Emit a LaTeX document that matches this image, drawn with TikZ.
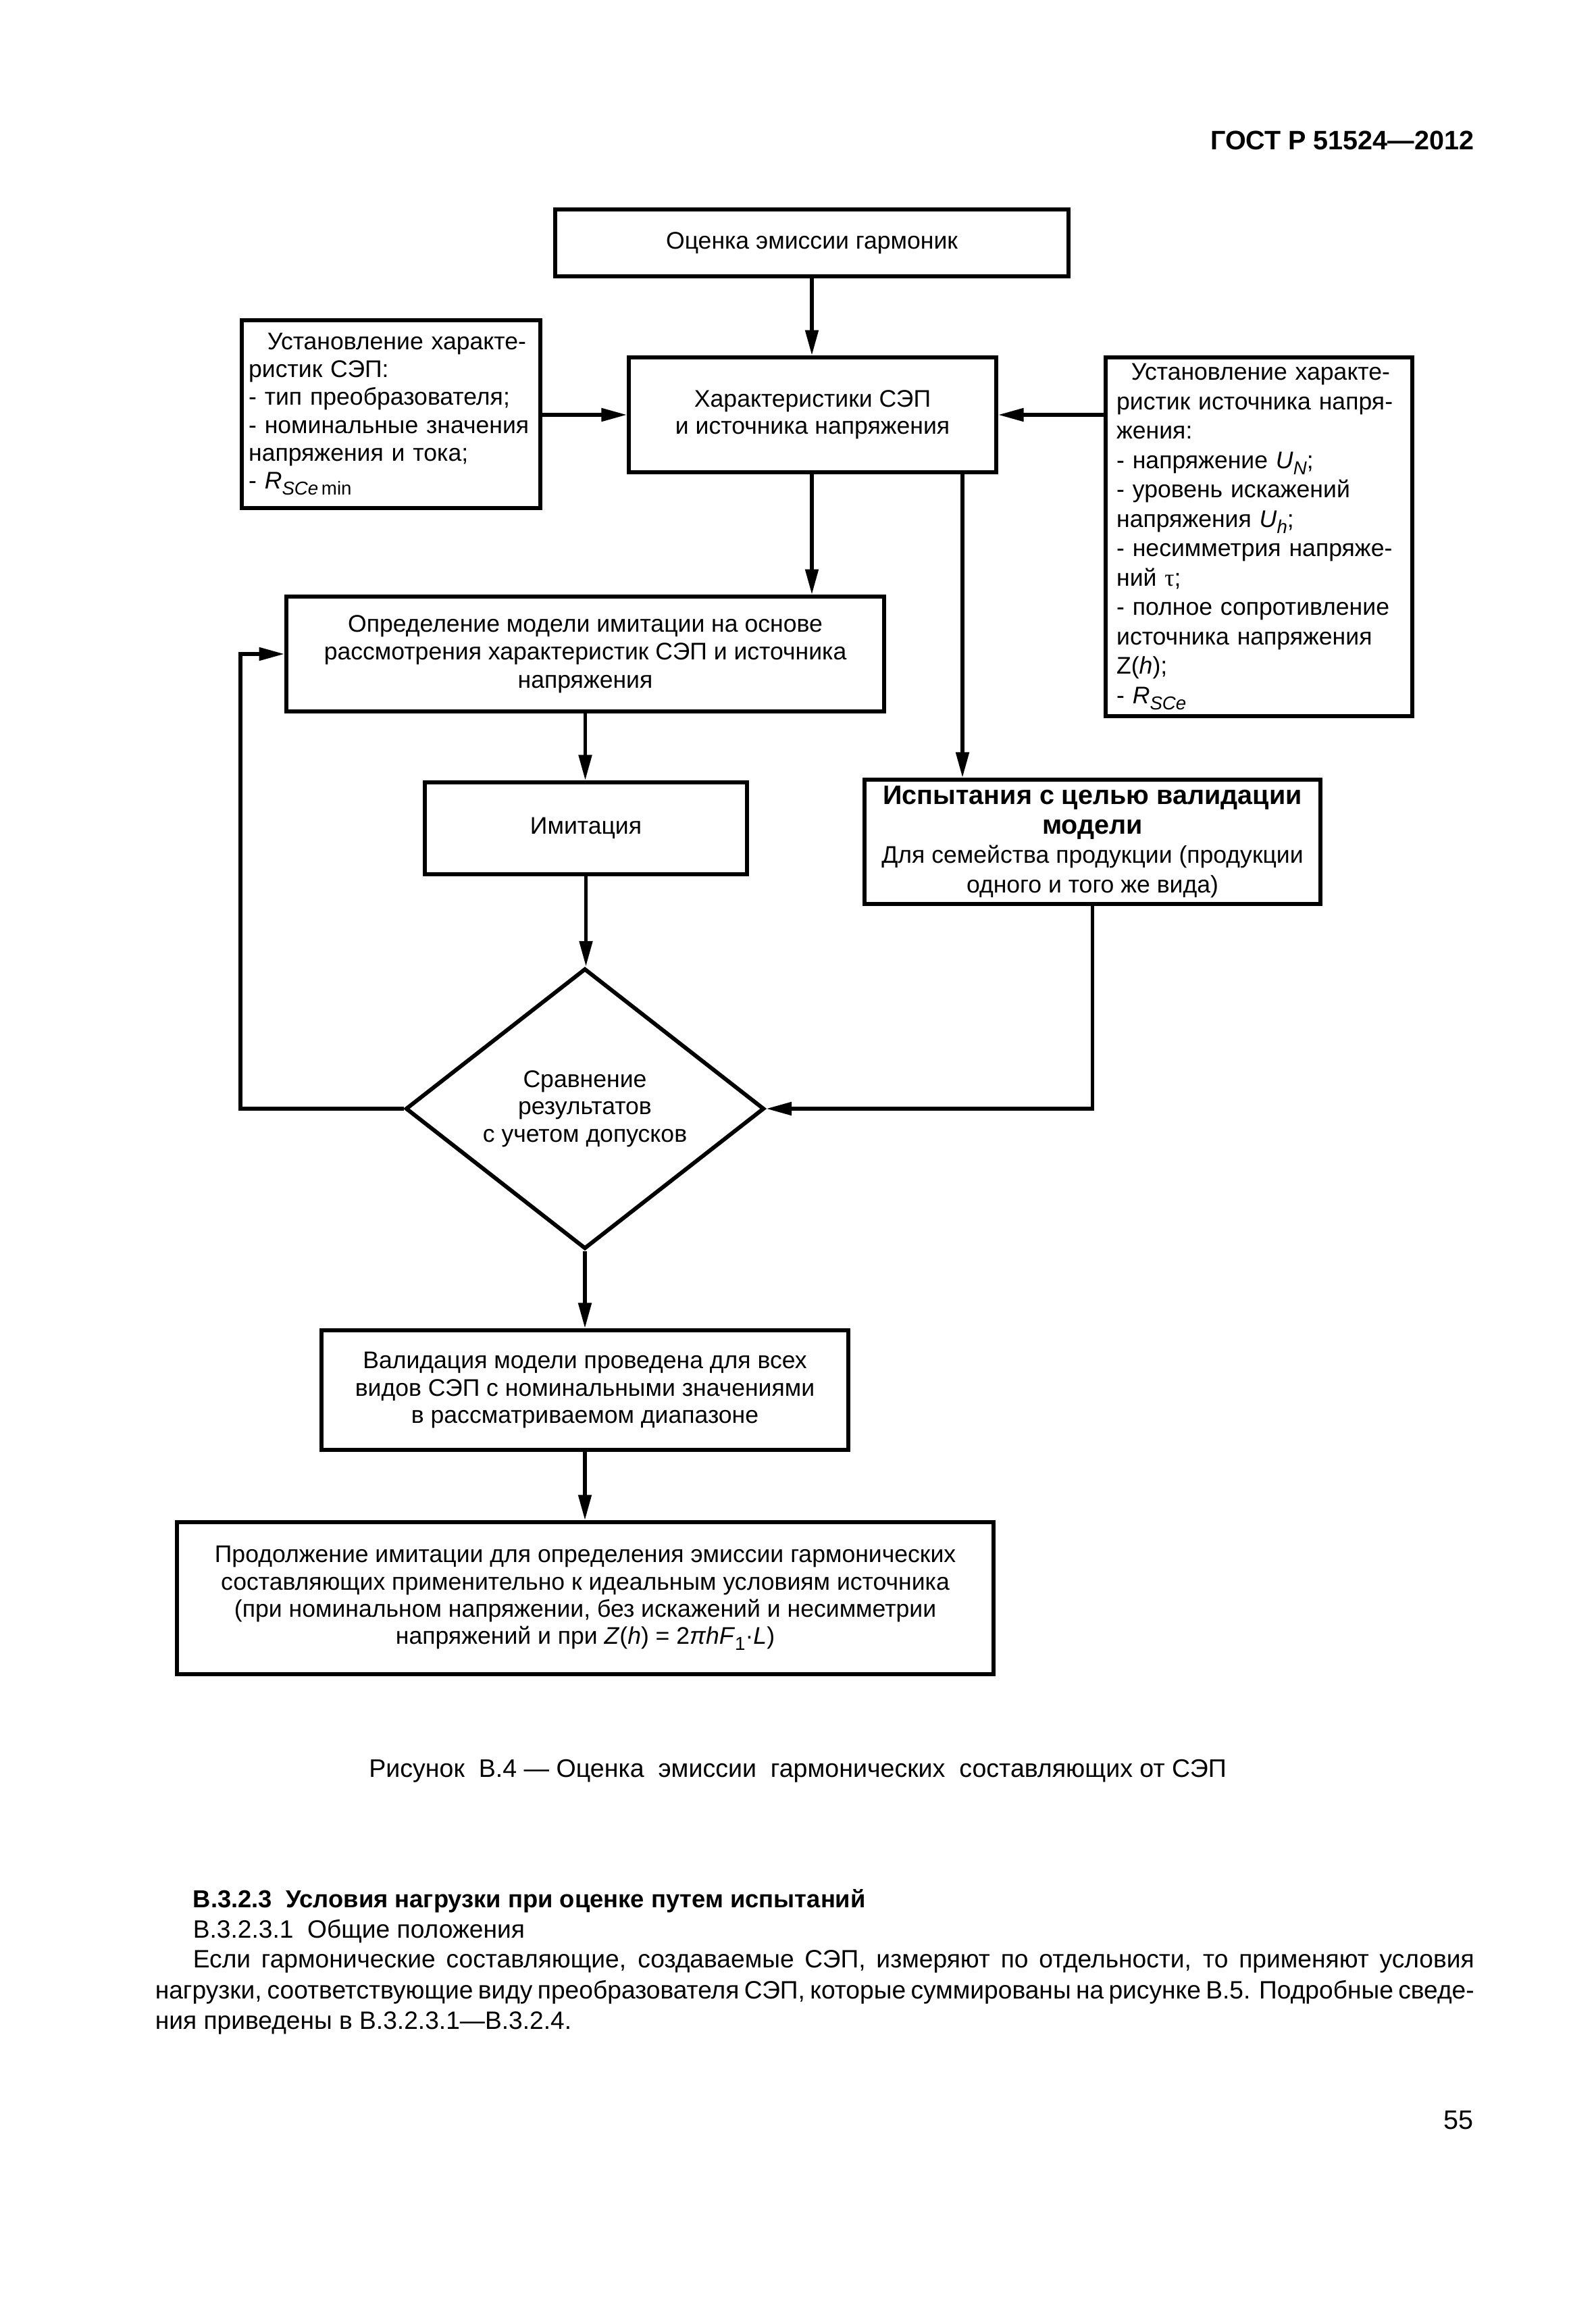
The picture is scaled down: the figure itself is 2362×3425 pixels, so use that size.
\documentclass[tikz,border=0pt]{standalone}
\usepackage{fontspec}
\setmainfont{Liberation Sans}
\newfontfamily\serifgr{Liberation Serif}
\usetikzlibrary{arrows.meta,shapes.geometric}
\newcommand{\lowsub}[1]{\raisebox{-2.3pt}{\fontsize{7pt}{7pt}\selectfont #1}}
\begin{document}
\begin{tikzpicture}[x=0.088908mm,y=-0.088908mm,
  box/.style={draw, line width=1.5pt, inner sep=0pt, align=center, font=\fontsize{9pt}{10.2pt}\selectfont},
  lbox/.style={draw, line width=1.5pt, inner sep=0pt, align=left, text width=37.5mm, font=\fontsize{9pt}{10.4pt}\selectfont},
  arr/.style={line width=1.3pt, -{Triangle[length=9.5pt,width=4.8pt]}},
  ptext/.style={anchor=base west, inner sep=0pt, font=\fontsize{9.4pt}{11.5pt}\selectfont}]
\useasboundingbox (0,0) rectangle (2362,3425);
\fill[white] (0,0) rectangle (2362,3425);

\node[anchor=base east, inner sep=0pt, font=\fontsize{10pt}{12pt}\selectfont\bfseries] (hdr) at (2183,222) {ГОСТ Р 51524—2012};

\node[box, minimum width=67.57mm, minimum height=8.80mm] (b1) at (1202,359.5) {Оценка эмиссии гармоник};
\node[lbox, minimum width=39.30mm, minimum height=24.72mm] (bL) at (579,613) {\hspace*{7pt}Установление характе-\\ристик СЭП:\\- тип преобразователя;\\- номинальные значения\\напряжения и тока;\\- \textit{R}\lowsub{\textit{SCe}\,min}};
\node[box, minimum width=48.37mm, minimum height=15.11mm] (b2) at (1203,614) {Характеристики СЭП\\и источника напряжения};
\node[lbox, minimum width=40.36mm, minimum height=47.21mm, font=\fontsize{9pt}{11pt}\selectfont] (bR) at (1864,794.5) {\hspace*{5.5pt}Установление характе-\\ристик источника напря-\\жения:\\- напряжение \textit{U}\lowsub{\textit{N}};\\- уровень искажений\\напряжения \textit{U}\lowsub{\textit{h}};\\- несимметрия напряже-\\ний {\serifgr τ};\\- полное сопротивление\\источника напряжения\\Z(\textit{h});\\- \textit{R}\lowsub{\textit{SCe}}};
\node[box, minimum width=78.68mm, minimum height=15.11mm, font=\fontsize{9pt}{10.5pt}\selectfont] (b3) at (866.5,968) {Определение модели имитации на основе\\рассмотрения характеристик СЭП и источника\\напряжения};
\node[box, minimum width=42.41mm, minimum height=12.09mm] (bI) at (867.5,1226) {Имитация};
\node[box, minimum width=60.01mm, minimum height=16.36mm, font=\fontsize{9pt}{11pt}\selectfont] (b4) at (1617.5,1246) {{\fontsize{10pt}{11pt}\selectfont\bfseries Испытания с целью валидации}\\{\fontsize{10pt}{11pt}\selectfont\bfseries модели}\\Для семейства продукции (продукции\\одного и того же вида)};
\node[box, shape=diamond, minimum width=47.21mm, minimum height=36.45mm] (d) at (866,1641) {Сравнение\\результатов\\с учетом допусков};
\node[box, minimum width=69.35mm, minimum height=15.74mm] (b5) at (866,2057.5) {Валидация модели проведена для всех\\видов СЭП с номинальными значениями\\в рассматриваемом диапазоне};
\node[box, minimum width=107.49mm, minimum height=20.00mm] (b6) at (866.5,2365.5) {Продолжение имитации для определения эмиссии гармонических\\составляющих применительно к идеальным условиям источника\\(при номинальном напряжении, без искажений и несимметрии\\напряжений и при \textit{Z}(\textit{h}) = 2\textit{πhF}\lowsub{1}·\textit{L})};

\coordinate (k4) at (1425,800);
\coordinate (fb) at (356,968);

\draw[arr] (b1.south) -- (b1.south |- b2.north);
\draw[arr] (b2.west -| bL.east) -- (b2.west);
\draw[arr] (b2.east -| bR.west) -- (b2.east);
\draw[arr] (b1.south |- b2.south) -- (b1.south |- b3.north);
\draw[arr] (b2.south -| k4) -- (b4.north -| k4);
\draw[arr] (b3.south) -- (b3.south |- bI.north);
\draw[arr] (bI.south) -- (bI.south |- d.north);
\draw[arr] (d.west) -| (fb) -- (b3.west);
\draw[arr] (b4.south) |- (d.east);
\draw[arr] (d.south) -- (d.south |- b5.north);
\draw[arr] (b5.south) -- (b5.south |- b6.north);

\node[anchor=base, inner sep=0pt, font=\fontsize{9.5pt}{12pt}\selectfont] (cap) at (1181,2630) {Рисунок\ \ В.4 — Оценка\ \ эмиссии\ \ гармонических\ \ составляющих от СЭП};

\node[ptext, font=\fontsize{9.2pt}{11.5pt}\selectfont\bfseries] (p1) at (285,2823) {В.3.2.3\ \ Условия нагрузки при оценке путем испытаний};
\node[ptext] (p2) at (285,2868) {В.3.2.3.1\ \ Общие\ положения};
\node[ptext] (p3) at (285,2912) {\hbox to 168.66mm{Если гармонические составляющие, создаваемые СЭП, измеряют по отдельности, то применяют условия}};
\node[ptext] (p4) at (229,2958) {\hbox to 173.64mm{нагрузки, соответствующие виду преобразователя СЭП, которые суммированы на рисунке В.5. Подробные сведе-}};
\node[ptext] (p5) at (229,3003) {ния приведены в В.3.2.3.1—В.3.2.4.};
\node[anchor=base east, inner sep=0pt, font=\fontsize{10pt}{12pt}\selectfont] (pg) at (2182,3151) {55};
\end{tikzpicture}
\end{document}
